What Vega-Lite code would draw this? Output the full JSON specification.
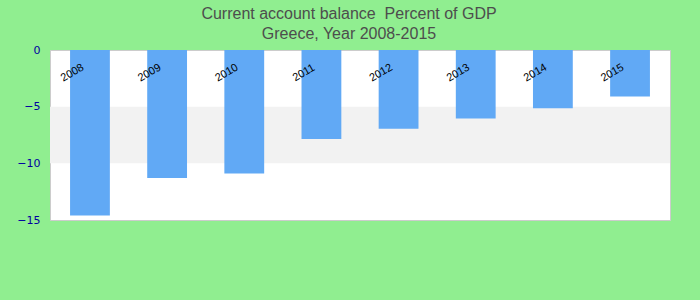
{
  "$schema": "https://vega.github.io/schema/vega-lite/v6.json",
  "autosize": {"type": "none"},
  "width": 620,
  "height": 170,
  "padding": {"left": 50, "top": 50, "right": 30, "bottom": 80},
  "background": "#90ee90",
  "title": {
    "text": ["Current account balance \u00a0Percent of GDP", "Greece, Year 2008-2015"],
    "font": "Liberation Sans",
    "fontSize": 16,
    "fontWeight": "normal",
    "color": "#4d4d4d",
    "lineHeight": 20,
    "anchor": "middle",
    "dx": -11,
    "offset": 2
  },
  "config": {
    "view": {"stroke": "#cccccc", "strokeWidth": 1, "fill": "#ffffff"}
  },
  "layer": [
    {
      "data": {"values": [{"low": -10, "high": -5}]},
      "mark": {"type": "rect", "color": "#f2f2f2"},
      "encoding": {
        "y": {"field": "low", "type": "quantitative", "scale": {"domain": [-15, 0], "nice": false}},
        "y2": {"field": "high"}
      }
    },
    {
      "data": {"values": [
        {"year": "2008", "value": -14.6},
        {"year": "2009", "value": -11.3},
        {"year": "2010", "value": -10.9},
        {"year": "2011", "value": -7.85},
        {"year": "2012", "value": -6.95},
        {"year": "2013", "value": -6.05},
        {"year": "2014", "value": -5.15},
        {"year": "2015", "value": -4.1}
      ]},
      "mark": {"type": "bar", "color": "#61a9f5"},
      "encoding": {
        "x": {
          "field": "year", "type": "ordinal",
          "scale": {"paddingInner": 0.484, "paddingOuter": 0.26},
          "axis": {
            "orient": "top", "title": null, "labelAngle": -30,
            "labelAlign": "center", "labelBaseline": "middle",
            "labelOffset": -17.5, "labelPadding": -22.5,
            "ticks": false, "domain": false, "grid": false, "zindex": 1,
            "labelFont": "Liberation Sans", "labelFontSize": 11, "labelColor": "#000000"
          }
        },
        "y": {
          "field": "value", "type": "quantitative",
          "scale": {"domain": [-15, 0], "nice": false},
          "axis": {
            "title": null, "values": [0, -5, -10, -15],
            "ticks": false, "domain": false, "grid": false,
            "labelFont": "DejaVu Sans", "labelFontSize": 11, "labelColor": "#0000a0",
            "labelPadding": 10
          }
        }
      }
    }
  ]
}
